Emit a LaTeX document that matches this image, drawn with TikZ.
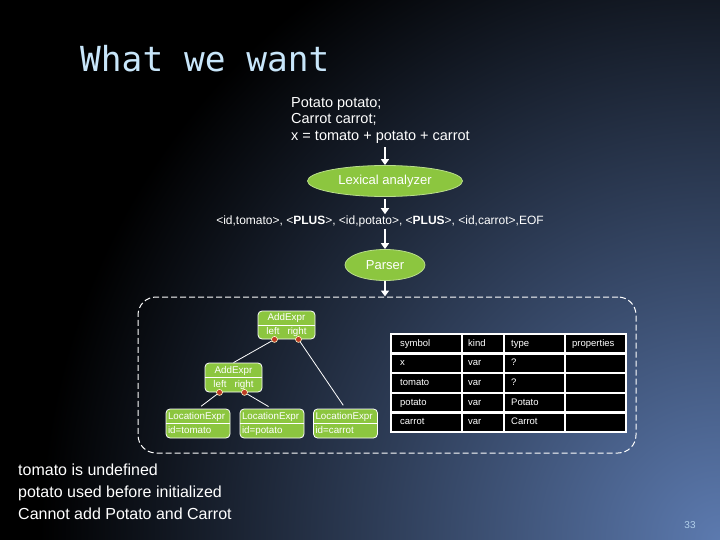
\documentclass[tikz,border=0pt]{standalone}
\usepackage{fontspec}
\setmainfont{Liberation Sans}
\newfontfamily\slidemono{DejaVu Sans Mono}
\usetikzlibrary{shapes.geometric,arrows.meta}

\definecolor{leaf}{RGB}{140,198,63}
\definecolor{bgblue}{RGB}{92,122,175}
\definecolor{titleblue}{RGB}{200,230,250}
\definecolor{pin}{RGB}{190,60,35}

\tikzset{
  flow/.style={draw=white, line width=2pt, -{Triangle[length=6pt,width=8pt]}},
  phase/.style={ellipse, fill=leaf, draw=leaf!60!white, line width=0.8pt, text=white,
    inner sep=0pt, font=\fontsize{13}{15}\selectfont},
  astnode/.style={rectangle, rounded corners=4pt, fill=leaf, draw=white, line width=0.8pt,
    text=white, inner sep=2pt, font=\fontsize{9.8}{14}\selectfont},
  pindot/.style={circle, fill=pin, draw=white!80!yellow, line width=0.6pt, inner sep=0pt,
    minimum size=6pt},
  wire/.style={draw=white, line width=0.8pt},
  grid/.style={draw=white, line width=2.5pt},
  cell/.style={anchor=west, inner sep=0pt, text height=7pt, text depth=2pt, text=white,
    font=\fontsize{9.5}{11}\selectfont}
}

\begin{document}
\begin{tikzpicture}[x=1pt, y=-1pt]

\def\W{720}
\def\H{540}
\def\tL{391}
\def\tR{626}
\def\tT{334}
\def\tB{432}

\useasboundingbox (0,0) rectangle (\W,\H);
\fill[black] (0,0) rectangle (\W,\H);
\begin{scope}
  \clip (0,0) rectangle (\W,\H);
  \shade[inner color=bgblue, outer color=black] (\W,\H) circle (680);
\end{scope}

\node[anchor=base west, inner sep=0pt, text=titleblue,
      font=\slidemono\fontsize{34.5}{40}\selectfont] (title) at (80,72) {What we want};

\node[anchor=north west, align=left, inner sep=0pt, text=white,
      font=\fontsize{14.5}{16.5}\selectfont] (code) at (291,97)
      {Potato potato;\\Carrot carrot;\\x = tomato + potato + carrot};

\node[phase, minimum width=155pt, minimum height=31pt] (lex) at (385,181) {Lexical analyzer};
\node[inner sep=0pt, text=white, font=\fontsize{12}{14}\selectfont] (tokens) at (380,221)
      {<id,tomato>, <\textbf{PLUS}>, <id,potato>, <\textbf{PLUS}>, <id,carrot>,EOF};
\node[phase, minimum width=80pt, minimum height=31pt] (parser) at (385,265) {Parser};

\node[draw=white, dash pattern=on 6pt off 3pt, rounded corners=18pt, line width=1pt,
      minimum width=498pt, minimum height=156pt, inner sep=0pt] (ast) at (387,375) {};

\draw[flow, shorten <=4pt] (code.south -| lex.north) -- (lex.north);
\draw[flow, shorten <=2pt, shorten >=1pt] (lex) -- (tokens.north -| lex);
\draw[flow, shorten <=2pt] (tokens.south -| parser) -- (parser);
\draw[flow] (parser) -- (ast.north -| parser);

% tree
\node[astnode, minimum width=57pt, minimum height=28pt, align=center] (sum) at (286.5,325)
      {AddExpr\\left\hspace{8pt}right};
\draw[wire] (sum.west) -- (sum.east);
\node[astnode, minimum width=57pt, minimum height=29pt, align=center] (sumL) at (233.5,377.5)
      {AddExpr\\left\hspace{8pt}right};
\draw[wire] (sumL.west) -- (sumL.east);

\node[astnode, text width=60pt, minimum height=29pt, align=left] (idT) at (198,423.5)
      {LocationExpr\\id=tomato\vphantom{p}};
\node[astnode, text width=60pt, minimum height=29pt, align=left] (idP) at (272,423.5)
      {LocationExpr\\id=potato};
\node[astnode, text width=60pt, minimum height=29pt, align=left] (idC) at (345.5,423.5)
      {LocationExpr\\id=carrot\vphantom{p}};
\draw[wire] (idT.west) -- (idT.east);
\draw[wire] (idP.west) -- (idP.east);
\draw[wire] (idC.west) -- (idC.east);

\node[pindot] (sumA) at ([xshift=-12pt]sum.south) {};
\node[pindot] (sumB) at ([xshift=12pt]sum.south) {};
\node[pindot] (sumLA) at ([xshift=-14pt]sumL.south) {};
\node[pindot] (sumLB) at ([xshift=11pt]sumL.south) {};

\draw[wire] (sumA) -- (sumL.north);
\draw[wire, shorten >=4pt] (sumB) -- (idC.north);
\draw[wire, shorten >=4pt] (sumLA) -- (idT.north);
\draw[wire, shorten >=4pt] (sumLB) -- (idP.north);

% symbol table
\fill[black] (\tL,\tT) rectangle (\tR,\tB);
\foreach \c in {462,504,565} \draw[grid] (\c,\tT) -- (\c,\tB);
\foreach \y in {353.6,373.2,392.8,412.4} \draw[grid] (\tL,\y) -- (\tR,\y);
\draw[grid] (\tL,\tT) rectangle (\tR,\tB);

\foreach \y/\sym/\knd/\typ [count=\r] in {343.8/symbol/kind/type, 363.4/x/var/?,
    383/tomato/var/?, 402.6/potato/var/Potato, 422.2/carrot/var/Carrot}{
  \node[cell] (sym-\r) at (400,\y) {\sym};
  \node[cell] (knd-\r) at (468,\y) {\knd};
  \node[cell] (typ-\r) at (511,\y) {\typ};
}
\node[cell] (prop) at (572,343.8) {properties};

\node[anchor=north west, align=left, inner sep=0pt, text=white,
      font=\fontsize{16}{22}\selectfont] (errs) at (18,464)
      {tomato is undefined\\potato used before initialized\\Cannot add Potato and Carrot};

\node[text=titleblue!80!bgblue, font=\fontsize{10}{12}\selectfont] (pageno) at (690,525) {33};

\end{tikzpicture}
\end{document}
